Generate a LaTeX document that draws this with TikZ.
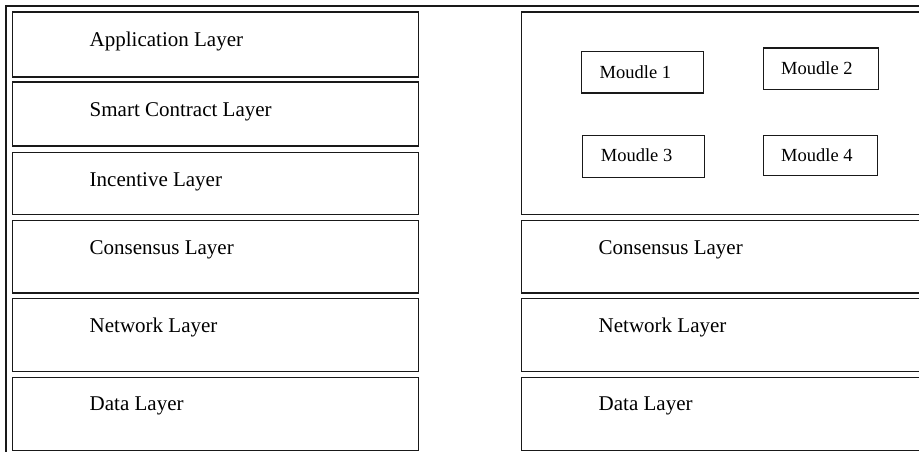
\documentclass[tikz,border=0pt]{standalone}
\usepackage{fontspec}
\setmainfont{Liberation Serif}
\usetikzlibrary{calc}
\begin{document}
\begin{tikzpicture}[x=1pt,y=-1pt,
  layerbox/.style={draw=black!90, line width=1.6pt, rectangle, inner sep=0pt, anchor=north west},
  modbox/.style={draw=black!90, line width=1.3pt, rectangle, inner sep=0pt, anchor=north west},
  layertext/.style={anchor=base west, inner sep=0pt, font=\fontsize{21}{25}\selectfont},
  modtext/.style={anchor=base west, inner sep=0pt, font=\fontsize{18.5}{22}\selectfont}]
\useasboundingbox (0,0) rectangle (919,452);
\clip (0,0) rectangle (919,452);

% outer frame
\draw[line width=1.3pt, black!90] (6,6) rectangle (940,470);

% left stack
\node[layerbox, minimum width=406pt, minimum height=64.5pt] (app) at (11.5,11.5) {};
\node[layerbox, minimum width=406pt, minimum height=63.5pt] (sc)  at (11.5,81.5) {};
\node[layerbox, minimum width=406pt, minimum height=62pt]   (inc) at (11.5,151.5) {};
\node[layerbox, minimum width=406pt, minimum height=72.5pt] (conL) at (11.5,219.5) {};
\node[layerbox, minimum width=406pt, minimum height=73pt]   (netL) at (11.5,297.5) {};
\node[layerbox, minimum width=406pt, minimum height=73pt]   (datL) at (11.5,376.5) {};

\node[layertext] (appT)  at ($(app.north west)+(78,35.5)$) {Application Layer};
\node[layertext] (scT)   at ($(sc.north west)+(78,35.5)$) {Smart Contract Layer};
\node[layertext] (incT)  at ($(inc.north west)+(78,35)$) {Incentive Layer};
\node[layertext] (conLT) at ($(conL.north west)+(78,35)$) {Consensus Layer};
\node[layertext] (netLT) at ($(netL.north west)+(78,35)$) {Network Layer};
\node[layertext] (datLT) at ($(datL.north west)+(78,34)$) {Data Layer};

% right stack
\node[layerbox, minimum width=420pt, minimum height=202pt]  (mods) at (520.5,11.5) {};
\node[layerbox, minimum width=420pt, minimum height=72.5pt] (conR) at (520.5,219.5) {};
\node[layerbox, minimum width=420pt, minimum height=73pt]   (netR) at (520.5,297.5) {};
\node[layerbox, minimum width=420pt, minimum height=73pt]   (datR) at (520.5,376.5) {};

\node[layertext] (conRT) at ($(conR.north west)+(78,35)$) {Consensus Layer};
\node[layertext] (netRT) at ($(netR.north west)+(78,35)$) {Network Layer};
\node[layertext] (datRT) at ($(datR.north west)+(78,34)$) {Data Layer};

% modules
\node[modbox, minimum width=122pt, minimum height=41.5pt] (m1) at (581,51) {};
\node[modbox, minimum width=114.5pt, minimum height=41.5pt] (m2) at (763,47.5) {};
\node[modbox, minimum width=122pt, minimum height=42pt] (m3) at (582,135) {};
\node[modbox, minimum width=113.5pt, minimum height=40pt] (m4) at (763,134.5) {};

\node[modtext] (m1T) at ($(m1.north west)+(18.5,27.5)$) {Moudle 1};
\node[modtext] (m2T) at ($(m2.north west)+(18,27.2)$) {Moudle 2};
\node[modtext] (m3T) at ($(m3.north west)+(18.7,26.2)$) {Moudle 3};
\node[modtext] (m4T) at ($(m4.north west)+(18,26.5)$) {Moudle 4};
\end{tikzpicture}
\end{document}
